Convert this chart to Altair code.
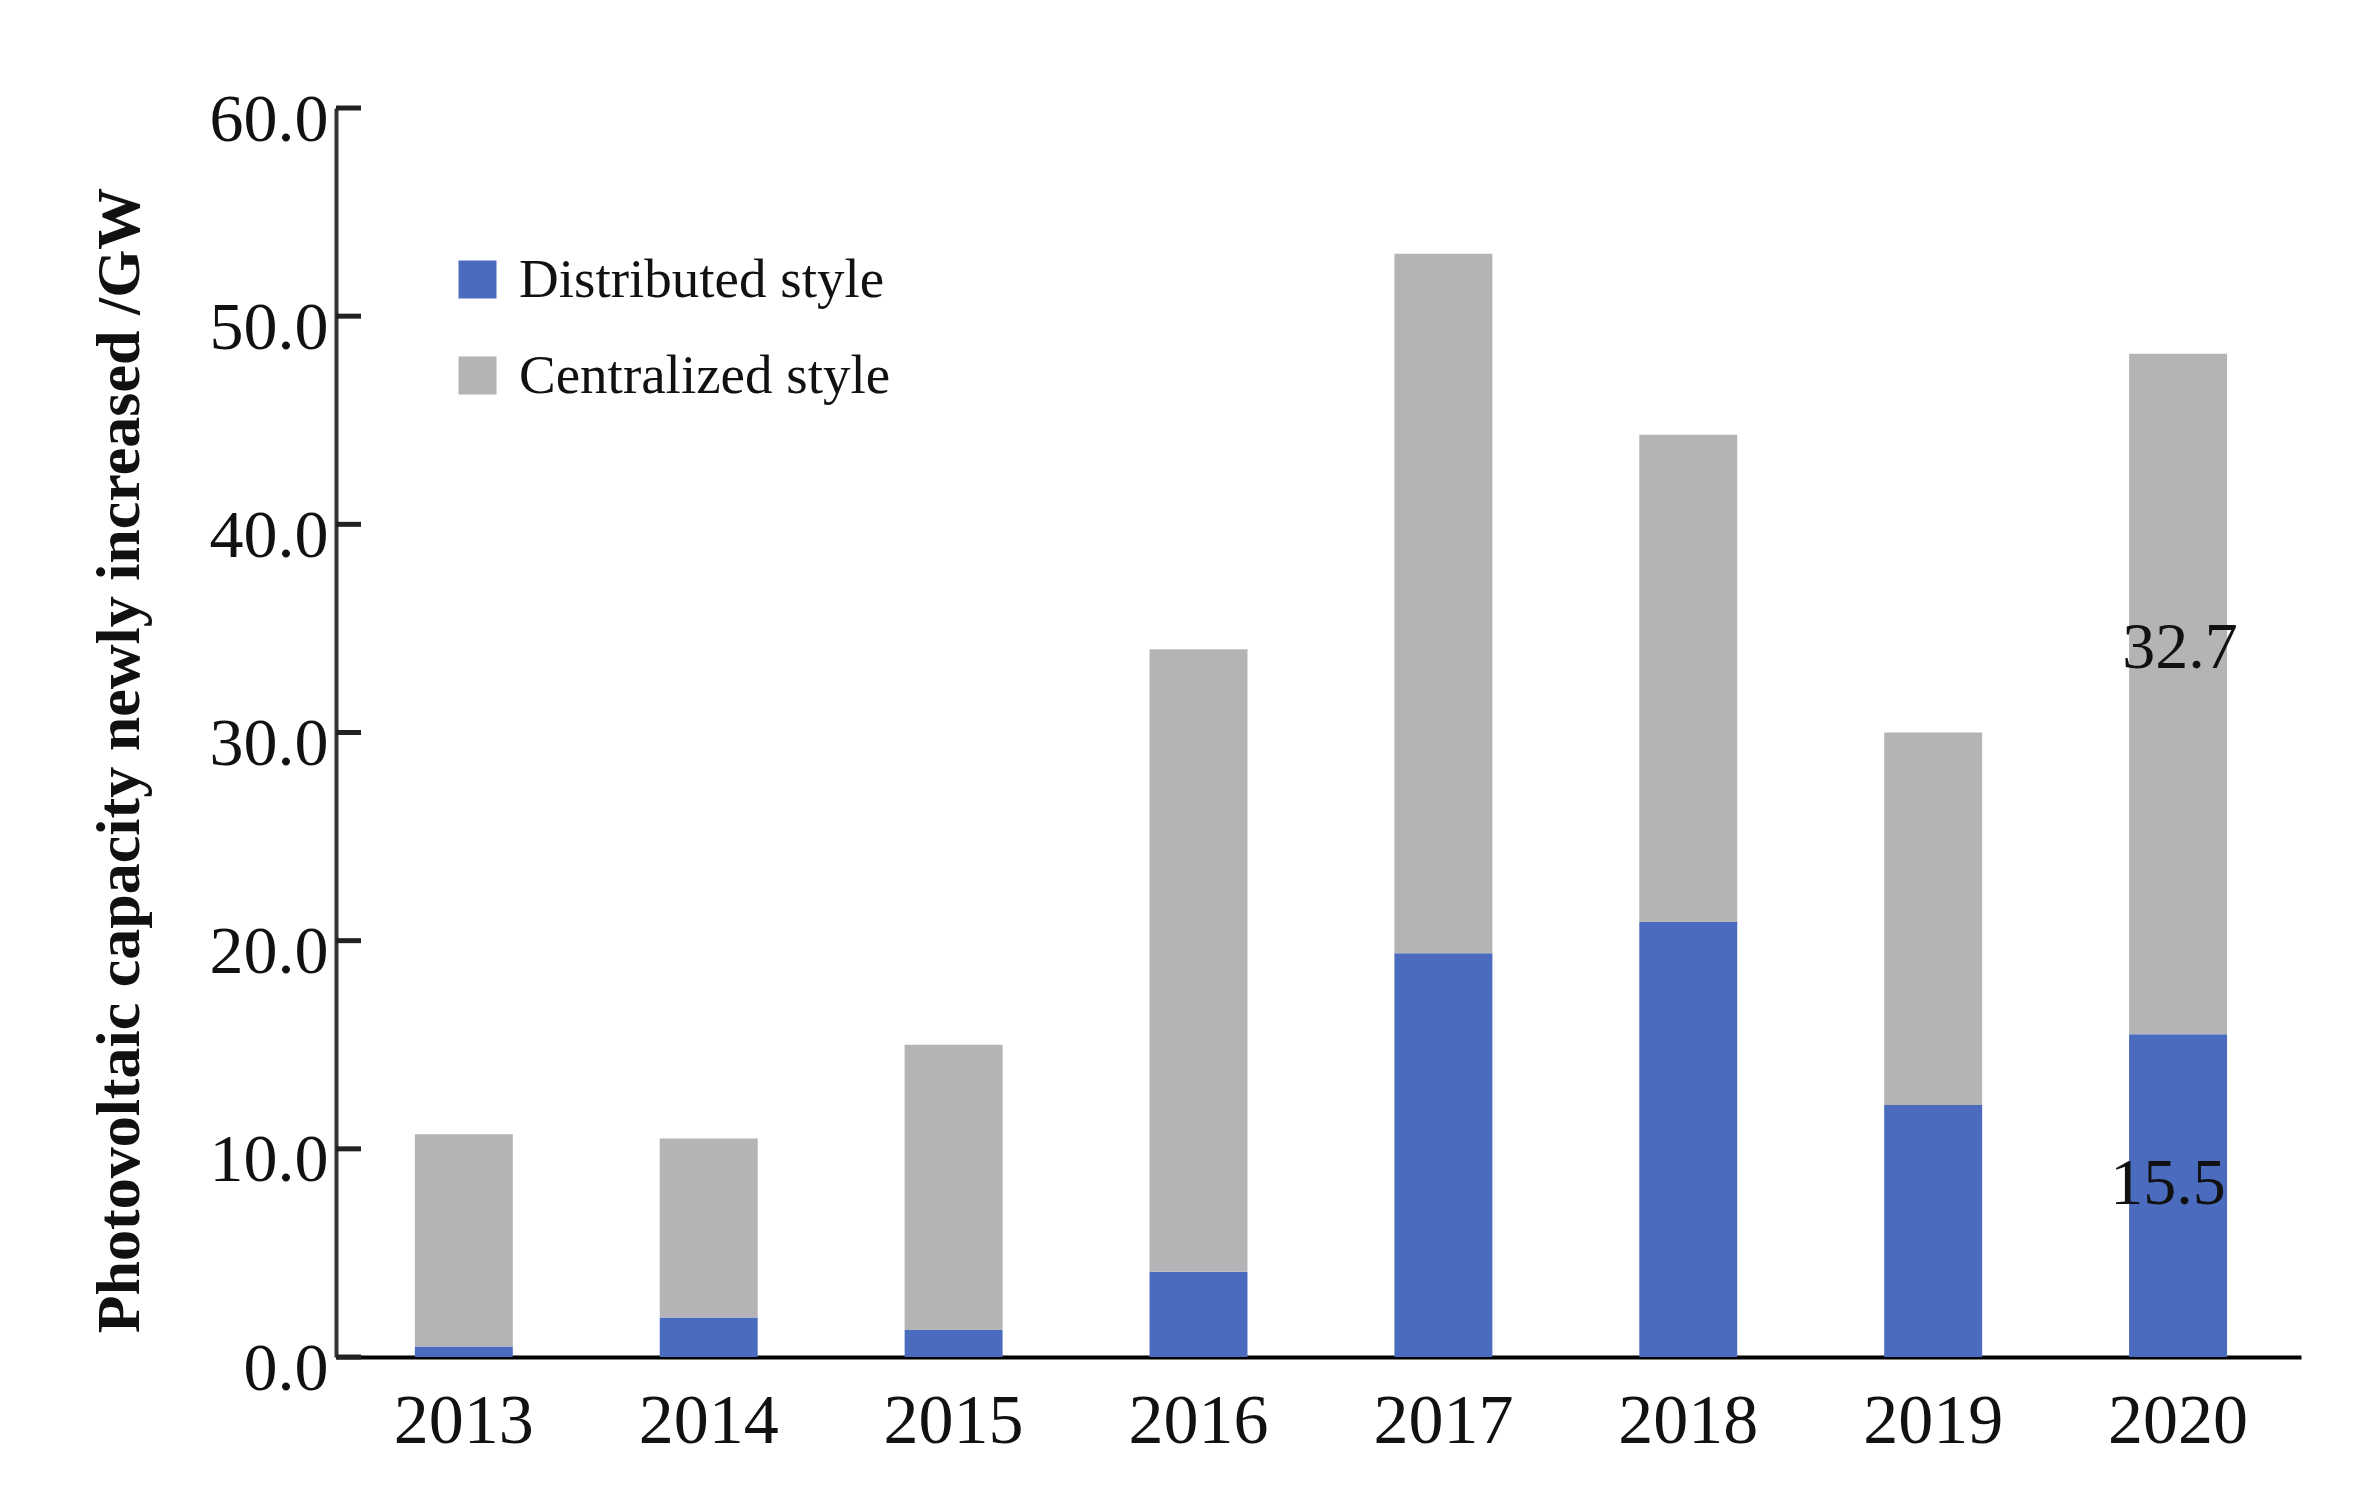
import altair as alt
import pandas as pd

years = ["2013", "2014", "2015", "2016", "2017", "2018", "2019", "2020"]
distributed = [0.5, 1.9, 1.3, 4.1, 19.4, 20.9, 12.1, 15.5]
centralized = [10.2, 8.6, 13.7, 29.9, 33.6, 23.4, 17.9, 32.7]
series_names = ["Distributed style", "Centralized style"]
series_colors = ["#4A6BBE", "#B4B4B6"]
y_ticks = [0, 10, 20, 30, 40, 50, 60]
annot_year = "2020"

rows = []
for yr, d, c in zip(years, distributed, centralized):
    rows.append({"year": yr, "series": series_names[0], "value": d, "order": 0})
    rows.append({"year": yr, "series": series_names[1], "value": c, "order": 1})
df = pd.DataFrame(rows)

df_ticks = pd.DataFrame({"value": y_ticks})

i = years.index(annot_year)
d20, c20 = distributed[i], centralized[i]
df_ann_d = pd.DataFrame({"year": [annot_year], "value": [d20 / 2], "label": [f"{d20:.1f}"]})
df_ann_c = pd.DataFrame({"year": [annot_year], "value": [d20 + c20 / 2], "label": [f"{c20:.1f}"]})

SERIF = "Liberation Serif"
xscale = alt.Scale(domain=years, paddingInner=0.6, paddingOuter=0.312, align=0.516)
yscale = alt.Scale(domain=[0, 60], nice=False, zero=True)

bars = alt.Chart(df).mark_bar().encode(
    x=alt.X("year:N", scale=xscale, sort=years,
            axis=alt.Axis(title=None, labelAngle=0, labelFont=SERIF, labelFontSize=70,
                          labelColor="#111111", labelPadding=30, ticks=False,
                          domainColor="#000000", domainWidth=4, grid=False)),
    y=alt.Y("value:Q", stack="zero", scale=yscale,
            axis=alt.Axis(title="Photovoltaic capacity newly increased /GW",
                          titleFont=SERIF, titleFontSize=62, titleFontWeight="bold",
                          titleColor="#111111", titleX=-217, titleY=652,
                          titleAlign="center", titleBaseline="middle", titleAngle=270,
                          values=y_ticks, format=".1f", labelFont=SERIF, labelFontSize=68,
                          labelColor="#111111", labelPadding=8, labelOffset=12,
                          ticks=False, domainColor="#333333", domainWidth=4, grid=False)),
    color=alt.Color("series:N", scale=alt.Scale(domain=series_names, range=series_colors),
                    legend=alt.Legend(title=None, orient="none", legendX=114, legendY=144,
                                      symbolType="square", symbolSize=1444, symbolStrokeWidth=0,
                                      symbolOpacity=1, labelFont=SERIF, labelFontSize=55,
                                      labelColor="#111111", labelOffset=14, rowPadding=40,
                                      padding=0, labelLimit=0)),
    order=alt.Order("order:Q"),
)

ticks = alt.Chart(df_ticks).mark_rule(color="#222222", strokeWidth=5).encode(
    y=alt.Y("value:Q", scale=yscale),
    x=alt.value(0),
    x2=alt.value(25),
)

ann_d = alt.Chart(df_ann_d).mark_text(font=SERIF, fontSize=66, color="#111111",
                                      baseline="middle", align="center", dy=-12, dx=-10).encode(
    x=alt.X("year:N", scale=xscale, sort=years),
    y=alt.Y("value:Q", scale=yscale),
    text="label:N",
)

ann_c = alt.Chart(df_ann_c).mark_text(font=SERIF, fontSize=66, color="#111111",
                                      baseline="middle", align="center", dy=-46, dx=2).encode(
    x=alt.X("year:N", scale=xscale, sort=years),
    y=alt.Y("value:Q", scale=yscale),
    text="label:N",
)

chart = alt.layer(bars, ticks, ann_d, ann_c).properties(
    width=1965, height=1249,
    autosize=alt.AutoSizeParams(type="none"),
    padding={"left": 328, "top": 100, "right": 64, "bottom": 124},
    background="white",
).configure_view(stroke=None)

chart.save("out.html", embed_options={"renderer": "svg", "actions": False})
